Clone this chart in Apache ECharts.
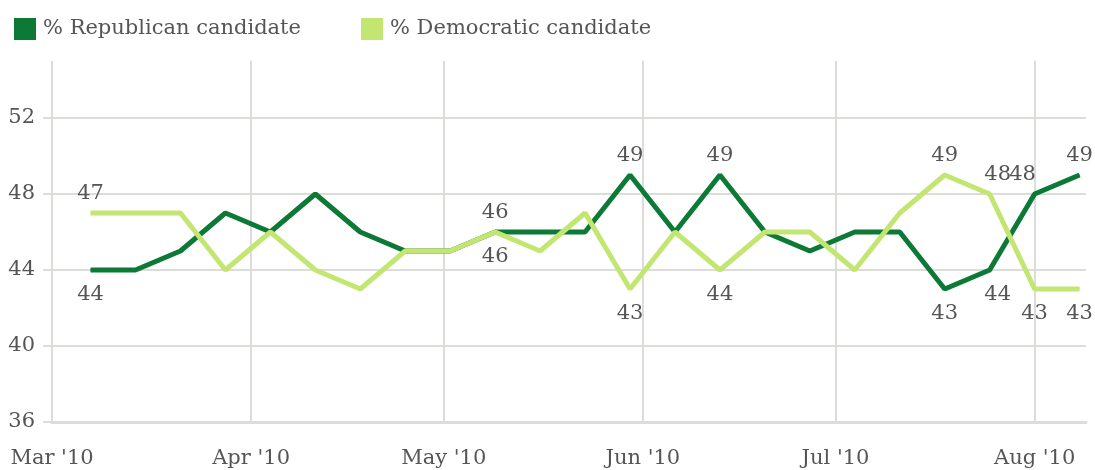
<!DOCTYPE html>
<html>
<head>
<meta charset="utf-8">
<script src="https://cdn.jsdelivr.net/npm/echarts@6/dist/echarts.min.js"></script>
<style>
  html, body { margin: 0; padding: 0; background: #ffffff; }
  #chart { width: 1095px; height: 470px; }
</style>
</head>
<body>
<div id="chart"></div>
<script>
// Weekly generic-ballot readings (week ending Sunday), 2010
const weeks = [
  '2010-03-07', '2010-03-14', '2010-03-21', '2010-03-28',
  '2010-04-04', '2010-04-11', '2010-04-18', '2010-04-25',
  '2010-05-02', '2010-05-09', '2010-05-16', '2010-05-23', '2010-05-30',
  '2010-06-06', '2010-06-13', '2010-06-20', '2010-06-27',
  '2010-07-04', '2010-07-11', '2010-07-18', '2010-07-25',
  '2010-08-01', '2010-08-08'
];
const republican = [44, 44, 45, 47, 46, 48, 46, 45, 45, 46, 46, 46, 49, 46, 49, 46, 45, 46, 46, 43, 44, 48, 49];
const democratic = [47, 47, 47, 44, 46, 44, 43, 45, 45, 46, 45, 47, 43, 46, 44, 46, 46, 44, 47, 49, 48, 43, 43];

// Weeks whose values are printed next to the lines
const labeledWeeks = [0, 9, 12, 14, 19, 20, 21, 22];

const seriesNames = ['% Republican candidate', '% Democratic candidate'];
const monthTicks = ['2010-03-01', '2010-04-01', '2010-05-01', '2010-06-01', '2010-07-01', '2010-08-01'];
const monthLabels = ["Mar '10", "Apr '10", "May '10", "Jun '10", "Jul '10", "Aug '10"];
const yTicks = [36, 40, 44, 48, 52];

// Dates are placed on a linear axis measured in days from 1 March
const DAY0 = Date.UTC(2010, 2, 1);
const toDay = s => {
  const [y, m, d] = s.split('-').map(Number);
  return Math.round((Date.UTC(y, m - 1, d) - DAY0) / 86400000);
};
const monthDays = monthTicks.map(toDay);

const FONT = 'DejaVu Serif';
const FS = 21;
const TEXT = '#555555';
const GRID = '#dcdcd8';
const REP = '#0c7a36';
const DEM = '#c3e673';

// Small horizontal nudges where neighbouring labels would collide
const nudgeBoth = { 20: 8 };
const nudgeUpper = { 21: -12 };

function buildData(values, other, isRep) {
  return values.map((v, i) => {
    const item = { value: [toDay(weeks[i]), v] };
    if (labeledWeeks.includes(i)) {
      const upper = v > other[i] || (v === other[i] && isRep);
      let dx = nudgeBoth[i] || 0;
      if (upper && nudgeUpper[i]) dx += nudgeUpper[i];
      item.label = {
        show: true,
        position: upper ? 'top' : 'bottom',
        distance: upper ? 8 : 14,
        offset: [dx, 0]
      };
    }
    return item;
  });
}

const chart = echarts.init(document.getElementById('chart'), null, { renderer: 'canvas' });

const labelStyle = {
  color: TEXT,
  fontFamily: FONT,
  fontSize: FS,
  formatter: p => p.value[1]
};

chart.setOption({
  animation: false,
  backgroundColor: '#ffffff',
  legend: {
    left: 9,
    top: 13,
    itemWidth: 22,
    itemHeight: 22,
    itemGap: 60,
    icon: 'rect',
    selectedMode: false,
    data: seriesNames,
    textStyle: { color: TEXT, fontFamily: FONT, fontSize: FS, padding: [0, 0, 0, 2] }
  },
  grid: { left: 52, right: 9, top: 61, bottom: 48, containLabel: false },
  xAxis: {
    type: 'value',
    min: 0,
    max: toDay('2010-08-09'),
    axisLine: { show: true, lineStyle: { color: GRID, width: 3 } },
    axisTick: { show: false, customValues: monthDays },
    splitLine: { show: true, lineStyle: { color: GRID, width: 2 } },
    axisLabel: {
      customValues: monthDays,
      margin: 26,
      color: TEXT,
      fontFamily: FONT,
      fontSize: FS,
      formatter: v => {
        const k = monthDays.indexOf(v);
        return k >= 0 ? monthLabels[k] : '';
      }
    }
  },
  yAxis: {
    type: 'value',
    min: 36,
    max: 55,
    interval: 4,
    axisLine: { show: false },
    axisTick: { show: true, length: 9, lineStyle: { color: GRID, width: 2 }, customValues: yTicks },
    splitLine: { show: true, lineStyle: { color: GRID, width: 2 } },
    axisLabel: {
      customValues: yTicks,
      margin: 17,
      color: TEXT,
      fontFamily: FONT,
      fontSize: FS
    }
  },
  series: [
    {
      name: seriesNames[0],
      type: 'line',
      color: REP,
      symbol: 'circle',
      symbolSize: 1,
      showSymbol: true,
      lineStyle: { color: REP, width: 5 },
      itemStyle: { color: REP },
      label: labelStyle,
      emphasis: { disabled: true },
      data: buildData(republican, democratic, true),
      z: 2
    },
    {
      name: seriesNames[1],
      type: 'line',
      color: DEM,
      symbol: 'circle',
      symbolSize: 1,
      showSymbol: true,
      lineStyle: { color: DEM, width: 5 },
      itemStyle: { color: DEM },
      label: labelStyle,
      emphasis: { disabled: true },
      data: buildData(democratic, republican, false),
      z: 3
    }
  ]
});
</script>
</body>
</html>
